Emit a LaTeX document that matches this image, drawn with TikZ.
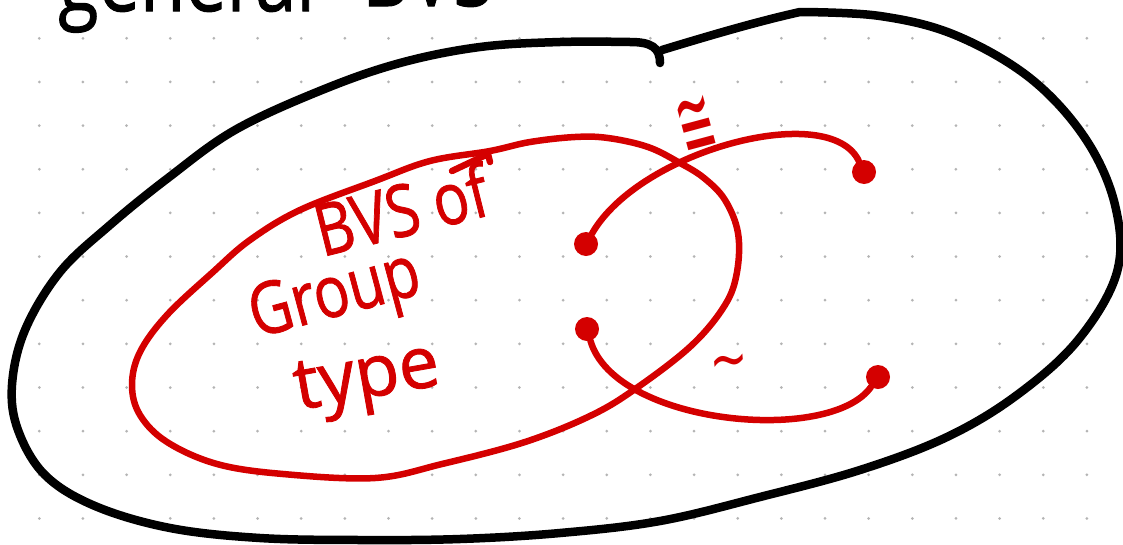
\documentclass[tikz,border=0pt]{standalone}
\usepackage{fontspec}
\newfontfamily\handfont{Open Sans}[FakeBold=1.2]
\newfontfamily\symbfont{DejaVu Sans}
\usetikzlibrary{calc,positioning}
\definecolor{ink}{HTML}{000000}
\definecolor{pen}{HTML}{D40000}
\definecolor{dotgrid}{HTML}{B4B4B4}
\tikzset{
    outline/.style={
        line width=8.5pt,
        color=ink,
        line cap=round,
        line join=round
    },
    penline/.style={
        line width=6.5pt,
        color=pen,
        line cap=round,
        line join=round
    },
    pendot/.style={
        circle,
        fill=pen,
        inner sep=0pt,
        minimum size=24pt
    },
    handlabel/.style={
        text=pen,
        inner sep=0pt,
        xscale=0.82,
        font=\handfont\fontsize{72}{72}\selectfont
    },
    titlelabel/.style={
        text=ink,
        inner sep=0pt,
        xscale=0.82,
        font=\handfont\fontsize{90}{90}\selectfont
    },
    relation/.style={
        text=pen,
        inner sep=0pt
    }
}

\begin{document}
\begin{tikzpicture}[x=1pt,y=-1pt]

    % Cadre
    \useasboundingbox (0,0) rectangle (1123,544);
    \clip (0,0) rectangle (1123,544);
    \fill[white] (0,0) rectangle (1123,544);

    % Grille de points
    \foreach \i in {0,...,24}
        \foreach \j in {0,...,11}
            \fill[dotgrid]
                ({39.3+43.65*\i},{38.3+43.65*\j})
                circle (1.5pt);

    % Titre (coupe par le bord)
    \node[titlelabel, anchor=base west]
        (title) at (58,11) {general};
    \node[titlelabel, anchor=base west]
        (titlebvs) at (362,6) {BVS};

    % Ensemble general
    \draw[outline]
        (662,50) .. controls (705,37) and (755,22) .. (800,12)
        plot[smooth, tension=0.6] coordinates {
            (800,12) (880,16) (955,35) (1030,78) (1085,138)
            (1115,205) (1117,272) (1078,340) (1017,395) (947,437)
            (860,470) (760,497) (660,521) (560,533) (460,539)
            (360,540) (260,538) (170,528) (95,506) (45,475)
            (18,430) (12,385) (25,330) (60,272) (110,225)
            (168,178) (235,130) (322,90) (400,63) (480,47)
            (560,42) (630,42)
        }
        .. controls (652,42) and (660,48) .. (660,63);

    % Sous-ensemble : type groupe
    \draw[penline]
        plot[smooth cycle, tension=0.6] coordinates {
            (575,137) (608,138) (648,147) (680,163) (704,178)
            (725,200) (738,233) (737,272) (725,305) (692,345)
            (638,387) (592,415) (525,442) (442,464) (375,478)
            (283,474) (217,464) (167,442) (140,415) (132,385)
            (140,352) (167,315) (213,272) (250,240) (300,210)
            (375,181) (430,161) (490,151) (530,142)
        };

    % Petite fleche sur la courbe
    \draw[penline]
        (452,171) -- (488,154) -- (490,162);

    % Etiquette du sous-ensemble
    \node[rotate=14, handlabel, anchor=base west]
        (bvsof) at (322,257) {BVS of};
    \node[rotate=15, handlabel, anchor=base west]
        (group) at (256,338) {Group};
    \node[rotate=10, handlabel, xscale=1.22, anchor=base west]
        (type) at (298,410) {type};

    % Points
    \node[pendot] (grpA) at (586,244) {};
    \node[pendot] (grpB) at (587,329) {};
    \node[pendot] (genC) at (864,172) {};
    \node[pendot] (genD) at (878,377) {};

    % Isomorphisme
    \draw[penline]
        (grpA) .. controls (640,150) and (830,100) .. (genC);

    \node[
        relation,
        rotate=15,
        yscale=2.2,
        font=\symbfont\fontsize{45}{45}\selectfont
    ]
        (isolabel) at (697,127) {≅};

    % Equivalence
    \draw[penline]
        (grpB) .. controls (615,425) and (830,445) .. (genD);

    \node[
        relation,
        rotate=5,
        yscale=1.4,
        font=\symbfont\fontsize{46}{46}\selectfont
    ]
        (equivlabel) at (730,368) {∼};

\end{tikzpicture}
\end{document}
